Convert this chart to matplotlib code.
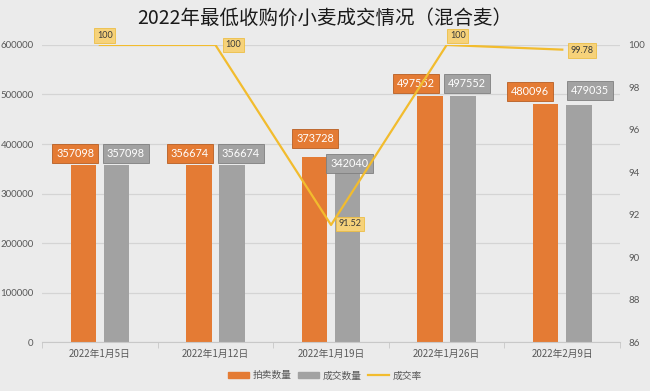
import numpy as np
import matplotlib
matplotlib.use("Agg")
from matplotlib import pyplot as plt
from matplotlib.patches import Patch
from matplotlib.lines import Line2D

plt.rcParams['font.family'] = ['Noto Sans CJK SC', 'DejaVu Sans']

dates = ['2022年1月5日', '2022年1月12日', '2022年1月19日', '2022年1月26日', '2022年2月9日']
auction = [357098, 356674, 373728, 497552, 480096]
deal = [357098, 356674, 342040, 497552, 479035]
rate = [100, 100, 91.52, 100, 99.78]

bg = '#ebebeb'
orange = '#E47B34'
gray = '#A2A2A2'
yellow = '#F2BC2E'
tick_col = '#595959'
num_font = ['Lato', 'DejaVu Sans']

fig = plt.figure(figsize=(6.5, 3.91), dpi=100, facecolor=bg)
ax = fig.add_axes([0.0646, 0.125, 0.8894, 0.76])
ax.set_facecolor(bg)
x = np.arange(len(dates))
w = 0.22
off = 0.143
ax.bar(x - off, auction, w, color=orange, zorder=2)
ax.bar(x + off, deal, w, color=gray, zorder=2)
ax.set_xlim(-0.5, 4.5)
ax.set_ylim(0, 600000)
ax.set_yticks(range(0, 600001, 100000))
ax.set_yticklabels([str(v) for v in range(0, 600001, 100000)], fontsize=7, color=tick_col,
                   family=num_font)
ax.set_xticks(x)
ax.set_xticklabels(dates, fontsize=7, color=tick_col)
ax.set_xticks(np.arange(-0.5, 5, 1), minor=True)
ax.tick_params(axis='x', which='major', length=0, pad=5)
ax.tick_params(axis='x', which='minor', length=4, color='#c8c8c8')
ax.tick_params(axis='y', length=0, pad=6)
ax.grid(axis='y', color='#d4d4d4', linewidth=0.9, zorder=0)
for s in ['top', 'right', 'left']:
    ax.spines[s].set_visible(False)
ax.spines['bottom'].set_color('#c8c8c8')

# bar labels: box centre offsets in points, as placed in the original
a_off = [(-5.8, 8.6), (-6.5, 8.6), (0.7, 13.3), (-10, 9), (-11.5, 9)]
d_off = [(6.8, 8.6), (6.5, 8.6), (1.4, 6.8), (2.9, 9), (7.9, 10.4)]
for i in range(len(dates)):
    ax.annotate(str(auction[i]), (x[i] - off, auction[i]), xytext=a_off[i], textcoords='offset points',
                ha='center', va='center', color='white', fontsize=7.8, family=num_font, zorder=5,
                bbox=dict(boxstyle='square,pad=0.38', fc=orange, ec='#B85E22', lw=0.6))
    ax.annotate(str(deal[i]), (x[i] + off, deal[i]), xytext=d_off[i], textcoords='offset points',
                ha='center', va='center', color='white', fontsize=7.8, family=num_font, zorder=5,
                bbox=dict(boxstyle='square,pad=0.38', fc=gray, ec='#7f7f7f', lw=0.6))

ax2 = ax.twinx()
ax2.plot(x, rate, color=yellow, linewidth=1.6, zorder=4)
ax2.set_ylim(86, 100)
ax2.set_yticks(range(86, 101, 2))
ax2.set_yticklabels([str(v) for v in range(86, 101, 2)], fontsize=7, color=tick_col,
                    family=num_font)
ax2.tick_params(axis='y', length=0, pad=6)
for s in ['top', 'right', 'left', 'bottom']:
    ax2.spines[s].set_visible(False)

r_off = [(3.6, 6.8), (13, 0), (13.7, 0.7), (8, 6.5), (14.4, -0.7)]
for i in range(len(dates)):
    txt = '%g' % rate[i]
    ax2.annotate(txt, (x[i], rate[i]), xytext=r_off[i], textcoords='offset points',
                 ha='center', va='center', color='#3a3a3a', fontsize=6.5, family=num_font, zorder=6,
                 bbox=dict(boxstyle='square,pad=0.3', fc='#F6D27A', ec='#EDBE45', lw=0.6))

fig.text(0.5, 0.953, '2022年最低收购价小麦成交情况（混合麦）', ha='center', va='center',
         fontsize=14, color='#1a1a1a')

handles = [Patch(color=orange), Patch(color=gray), Line2D([], [], color=yellow, lw=1.6)]
fig.legend(handles, ['拍卖数量', '成交数量', '成交率'], loc='center', bbox_to_anchor=(0.5, 0.04),
           ncol=3, frameon=False, fontsize=7, handlelength=2.2, handleheight=0.6,
           columnspacing=0.6, handletextpad=0.4, labelcolor=tick_col)

fig.savefig('out.png', dpi=100, facecolor=bg)
